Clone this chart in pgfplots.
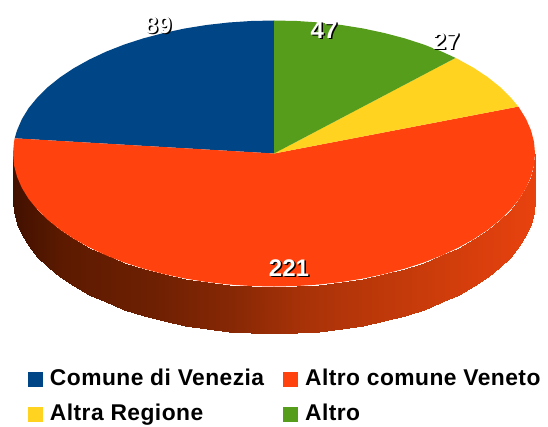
\documentclass[border=0pt]{standalone}
\usepackage{fontspec}
\setmainfont{Liberation Sans}
\usepackage{pgfplots}
\pgfplotsset{compat=1.18}
\definecolor{cblue}{HTML}{004586}
\definecolor{corange}{HTML}{FF420E}
\definecolor{cyellow}{HTML}{FFD320}
\definecolor{cgreen}{HTML}{579D1C}
\begin{document}
\begin{tikzpicture}[x=1bp,y=1bp]
\path[use as bounding box] (0,0) rectangle (548,426);
\begin{axis}[
  at={(0,0)},anchor=south west,
  scale only axis,width=548bp,height=426bp,
  xmin=0,xmax=548,ymin=0,ymax=426,y dir=reverse,
  hide axis,clip=false,
  colormap={wall}{
    rgb255(0pt)=(66,17,0);
    rgb255(50pt)=(92,26,0);
    rgb255(140pt)=(110,32,2);
    rgb255(220pt)=(135,40,5);
    rgb255(290pt)=(168,50,8);
    rgb255(390pt)=(196,58,10);
    rgb255(522pt)=(232,66,14)},
  point meta min=13,point meta max=535,
  legend columns=2,
  legend cell align=left,
  legend style={at={(axis cs:28,367)},anchor=north west,draw=none,fill=none,
    font=\fontsize{22.8bp}{26bp}\selectfont\bfseries\addfontfeature{LetterSpace=2},
    inner sep=0pt,outer sep=0pt,
    /tikz/every odd column/.append style={column sep=5bp},
    /tikz/every even column/.append style={column sep=17bp},
    row sep=12.5bp},
  legend image code/.code={\fill[#1] (0bp,-9bp) rectangle (15bp,6bp);},
]
\addplot[surf,shader=interp,mesh/cols=2,mesh/rows=37,point meta=x,forget plot] table {
535.0 153.5
535.0 200.5
534.0 165.1
534.0 212.1
531.0 176.6
531.0 223.6
526.1 187.9
526.1 234.9
519.3 199.0
519.3 246.0
510.5 209.7
510.5 256.7
500.0 220.0
500.0 267.0
487.8 229.8
487.8 276.8
473.9 239.0
473.9 286.0
458.6 247.5
458.6 294.5
441.8 255.4
441.8 302.4
423.7 262.5
423.7 309.5
404.5 268.7
404.5 315.7
384.3 274.0
384.3 321.0
363.3 278.5
363.3 325.5
341.5 282.0
341.5 329.0
319.3 284.5
319.3 331.5
296.8 286.0
296.8 333.0
274.0 286.5
274.0 333.5
251.2 286.0
251.2 333.0
228.7 284.5
228.7 331.5
206.5 282.0
206.5 329.0
184.7 278.5
184.7 325.5
163.7 274.0
163.7 321.0
143.5 268.7
143.5 315.7
124.3 262.5
124.3 309.5
106.2 255.4
106.2 302.4
89.4 247.5
89.4 294.5
74.1 239.0
74.1 286.0
60.2 229.8
60.2 276.8
48.0 220.0
48.0 267.0
37.5 209.7
37.5 256.7
28.7 199.0
28.7 246.0
21.9 187.9
21.9 234.9
17.0 176.6
17.0 223.6
14.0 165.1
14.0 212.1
13.0 153.5
13.0 200.5
};
% Comune di Venezia: 89
\addplot[fill=cblue,draw=none] coordinates {
(274,153.5) (14.7,138.3) (17.0,130.4) (21.9,119.1) (28.7,108.0) (37.5,97.3) (48.0,87.0) (60.2,77.2) (74.1,68.0) (89.4,59.5) (106.2,51.6) (124.3,44.5) (143.5,38.3) (163.7,33.0) (184.7,28.5) (206.5,25.0) (228.7,22.5) (251.2,21.0) (274,20.5)
} -- cycle;
\addlegendentry{Comune di Venezia}
% Altro comune Veneto: 221
\addplot[fill=corange,draw=none] coordinates {
(274,153.5) (518.3,106.6) (519.3,108.0) (526.1,119.1) (531.0,130.4) (534.0,141.9) (535,153.5) (534.0,165.1) (531.0,176.6) (526.1,187.9) (519.3,199.0) (510.5,209.7) (500.0,220.0) (487.8,229.8) (473.9,239.0) (458.6,247.5) (441.8,255.4) (423.7,262.5) (404.5,268.7) (384.3,274.0) (363.3,278.5) (341.5,282.0) (319.3,284.5) (296.8,286.0) (274,286.5) (251.2,286.0) (228.7,284.5) (206.5,282.0) (184.7,278.5) (163.7,274.0) (143.5,268.7) (124.3,262.5) (106.2,255.4) (89.4,247.5) (74.1,239.0) (60.2,229.8) (48.0,220.0) (37.5,209.7) (28.7,199.0) (21.9,187.9) (17.0,176.6) (14.0,165.1) (13,153.5) (14.0,141.9) (14.7,138.3)
} -- cycle;
\addlegendentry{Altro comune Veneto}
% Altra Regione: 27
\addplot[fill=cyellow,draw=none] coordinates {
(274,153.5) (455.5,57.9) (458.6,59.5) (473.9,68.0) (487.8,77.2) (500.0,87.0) (510.5,97.3) (518.3,106.6)
} -- cycle;
\addlegendentry{Altra Regione}
% Altro: 47
\addplot[fill=cgreen,draw=none] coordinates {
(274,153.5) (274,20.5) (296.8,21.0) (319.3,22.5) (341.5,25.0) (363.3,28.5) (384.3,33.0) (404.5,38.3) (423.7,44.5) (441.8,51.6) (455.5,57.9)
} -- cycle;
\addlegendentry{Altro}
\foreach \t/\px/\py in {89/158/25,47/324/30,27/446/41,221/289/268}{
  \edef\temp{\noexpand\node[text=black,font=\noexpand\fontsize{24bp}{24bp}\noexpand\bfseries] at (axis cs:\px+1.5,\py+1.5) {\t};
  \noexpand\node[text=white,font=\noexpand\fontsize{24bp}{24bp}\noexpand\bfseries] at (axis cs:\px,\py) {\t};}
  \temp
}
\end{axis}
\end{tikzpicture}
\end{document}
